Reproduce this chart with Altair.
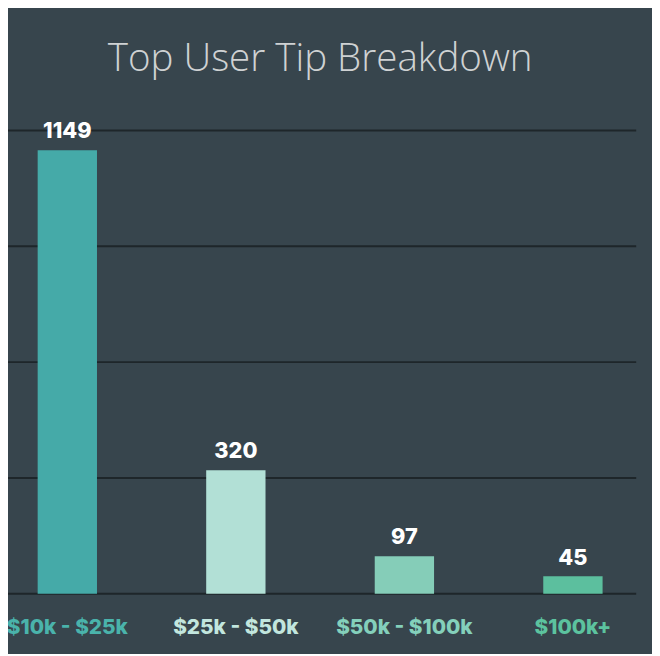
import altair as alt
import pandas as pd

title_text = "Top User Tip Breakdown"
categories = ["$10k - $25k", "$25k - $50k", "$50k - $100k", "$100k+"]
values = [1149, 320, 97, 45]
bar_colors = ["#45aaa8", "#b2e0d6", "#85cdb8", "#5cbf9e"]
label_colors = ["#4ab3ab", "#c2e6de", "#84d0bb", "#5cc39f"]
grid_values = [0, 300, 600, 900, 1200]

df = pd.DataFrame({
    "category": categories,
    "value": values,
    "bar_color": bar_colors,
    "label_color": label_colors,
})
grid_df = pd.DataFrame({"g": grid_values})
title_df = pd.DataFrame({"t": [title_text]})

W, H = 632, 469
yscale = alt.Scale(domain=[0, 1200], nice=False, zero=True)
xscale = alt.Scale(domain=categories, paddingInner=0.648, paddingOuter=0.176)

grid = alt.Chart(grid_df).mark_rule(color="#1e262a", strokeWidth=2).encode(
    y=alt.Y("g:Q", scale=yscale, axis=None),
    x=alt.value(-4),
    x2=alt.value(636),
)

x_enc = alt.X("category:N", scale=xscale, sort=categories, axis=None)

bars = alt.Chart(df).mark_bar().encode(
    x=x_enc,
    y=alt.Y("value:Q", scale=yscale, axis=None),
    color=alt.Color("bar_color:N", scale=None),
)

value_labels = alt.Chart(df).mark_text(
    font="Inter", fontWeight=800, fontSize=22, color="#ffffff",
    baseline="alphabetic", dy=-12,
).encode(
    x=x_enc,
    y=alt.Y("value:Q", scale=yscale, axis=None),
    text=alt.Text("value:Q"),
)

cat_labels = alt.Chart(df).mark_text(
    font="Inter", fontWeight=800, fontSize=21,
    baseline="alphabetic",
).encode(
    x=x_enc,
    y=alt.value(510),
    text=alt.Text("category:N"),
    color=alt.Color("label_color:N", scale=None),
)

title = alt.Chart(title_df).mark_text(
    font="Open Sans", fontWeight=300, fontSize=39, color="#cfd2d3",
    baseline="alphabetic", align="center",
).encode(
    x=alt.value(W / 2),
    y=alt.value(-60),
    text=alt.Text("t:N"),
)

chart = alt.layer(grid, bars, value_labels, cat_labels, title).properties(
    width=W, height=H,
    background="#37454d",
    autosize=alt.AutoSizeParams(type="none"),
    padding={"left": 0, "top": 120, "right": 20, "bottom": 57},
).configure_view(stroke=None)

chart.save("out.html", embed_options={"renderer": "svg", "actions": False})
